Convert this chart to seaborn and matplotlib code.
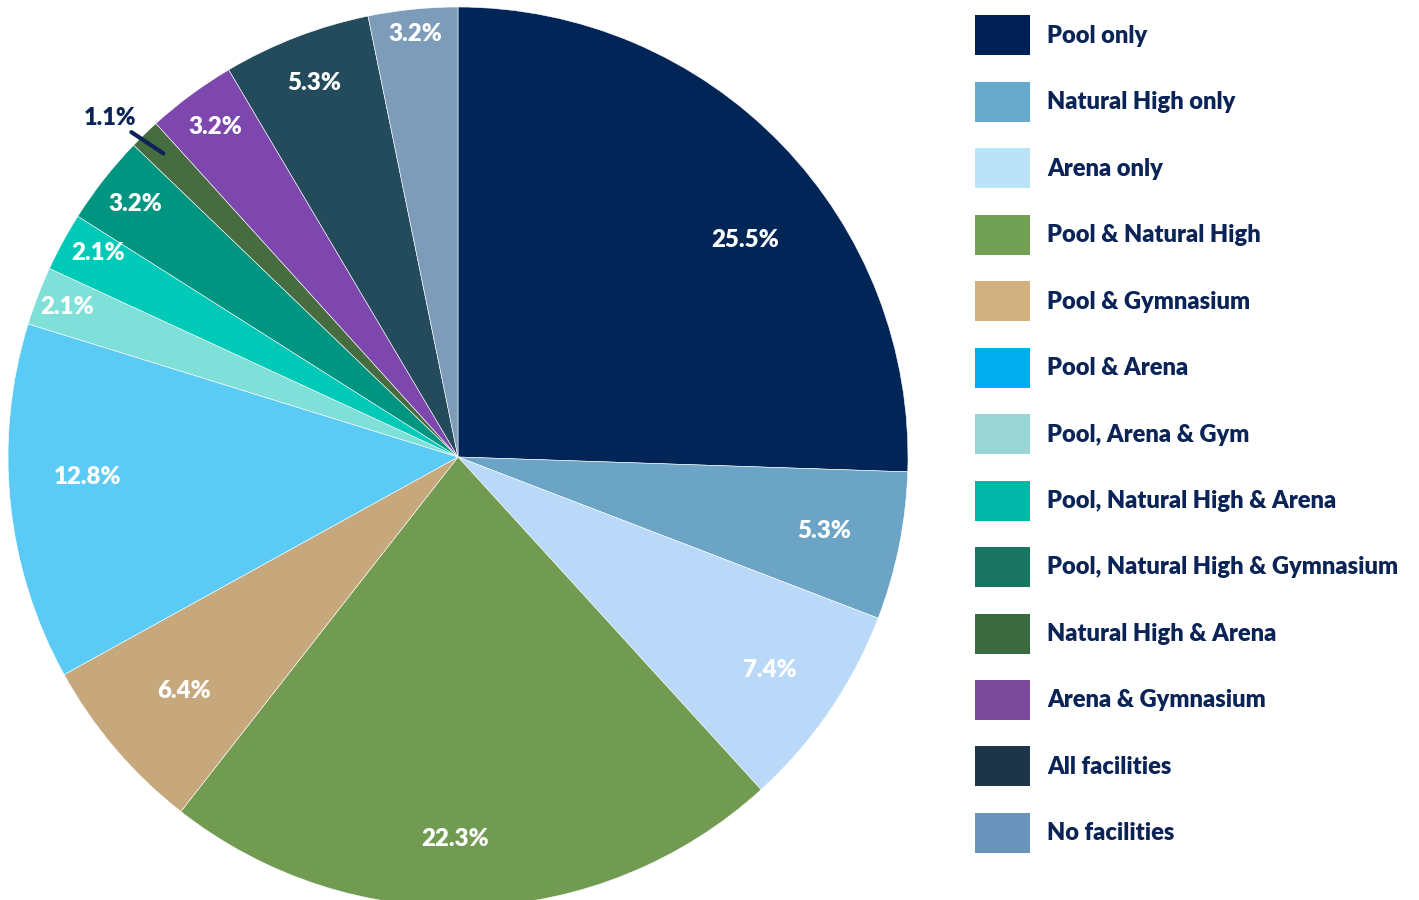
import numpy as np
import matplotlib.pyplot as plt
import seaborn as sns
from matplotlib.patches import Patch
from matplotlib import font_manager as fm

# ===============================
# DATA
# ===============================
categories = [
    "Pool only", "Natural High only", "Arena only", "Pool & Natural High",
    "Pool & Gymnasium", "Pool & Arena", "Pool, Arena & Gym",
    "Pool, Natural High & Arena", "Pool, Natural High & Gymnasium",
    "Natural High & Arena", "Arena & Gymnasium", "All facilities", "No facilities",
]
shares = [25.5, 5.3, 7.4, 22.3, 6.4, 12.8, 2.1, 2.1, 3.2, 1.1, 3.2, 5.3, 3.2]

# wedge colours (as drawn in the pie) and the slightly different legend swatches
wedge_colors = ["#012556", "#6CA4C6", "#BAD9F9", "#709B50", "#C6A87C", "#5BCBF5",
                "#7FE0DA", "#00C9B8", "#009580", "#476C40", "#7E47AE", "#244B5C", "#7C9CBA"]
legend_colors = ["#012156", "#68AACB", "#BAE3F7", "#72A055", "#D1B17F", "#00AEEF",
                 "#99D5D4", "#00B8A8", "#1A7462", "#3A6A3E", "#7B4B9A", "#1D3449", "#6A94BB"]

# label radius (fraction of pie radius) and angle nudge per wedge
label_r = [0.80, 0.83, 0.84, 0.85, 0.80, 0.825, 0.93, 0.92, 0.91, 1.08, 0.91, 0.89, 0.945]
label_dang = [-7, 0, 0, -2.6, 0, -2.7, 0, -1, 0, 1.6, 0, 0, 0]

navy = "#0B2457"

sns.set_theme(style="white")
plt.rcParams["font.family"] = ["Lato", "DejaVu Sans"]

# the heavy Lato cut matches the reference weight best
font_files = {f.fname.split("/")[-1]: f.fname for f in fm.fontManager.ttflist}
bold_file = font_files.get("Lato-ExtraBold.ttf") or font_files.get("Lato-Bold.ttf")


def bold(size):
    if bold_file:
        return fm.FontProperties(fname=bold_file, size=size)
    return fm.FontProperties(family="DejaVu Sans", weight="bold", size=size)


fig = plt.figure(figsize=(14.19, 9), dpi=100)
ax = fig.add_axes([8 / 1419, -7 / 900, 900 / 1419, 1.0])

wedges, _ = ax.pie(shares, colors=wedge_colors, startangle=90, counterclock=False,
                   radius=1.0, wedgeprops=dict(edgecolor="white", linewidth=0.4))
ax.set_xlim(-1, 1)
ax.set_ylim(-1, 1)
ax.set_aspect("equal")
ax.axis("off")

for i, (w, v) in enumerate(zip(wedges, shares)):
    ang = np.deg2rad((w.theta1 + w.theta2) / 2 + label_dang[i])
    r = label_r[i]
    x, y = r * np.cos(ang), r * np.sin(ang)
    txt = f"{v:.1f}%"
    if r > 1:
        # small slice: label outside with a leader line
        mid = np.deg2rad((w.theta1 + w.theta2) / 2)
        ax.annotate(txt, xy=(0.94 * np.cos(mid), 0.94 * np.sin(mid)), xytext=(x, y),
                    ha="center", va="center", fontproperties=bold(17), color=navy,
                    arrowprops=dict(arrowstyle="-", color=navy, lw=3,
                                    shrinkA=0, shrinkB=0))
    else:
        ax.text(x, y, txt, ha="center", va="center", fontproperties=bold(17.3),
                color="white")

handles = [Patch(facecolor=c, edgecolor="none") for c in legend_colors]
leg = fig.legend(handles, categories, loc="upper left", bbox_to_anchor=(966 / 1419, 1 - 6 / 900),
                 frameon=False, prop=bold(17), handlelength=2.29, handleheight=2.23,
                 labelspacing=1.12, handletextpad=0.75, borderaxespad=0)
for t in leg.get_texts():
    t.set_color(navy)

fig.savefig("out.png", dpi=100, facecolor="white")
